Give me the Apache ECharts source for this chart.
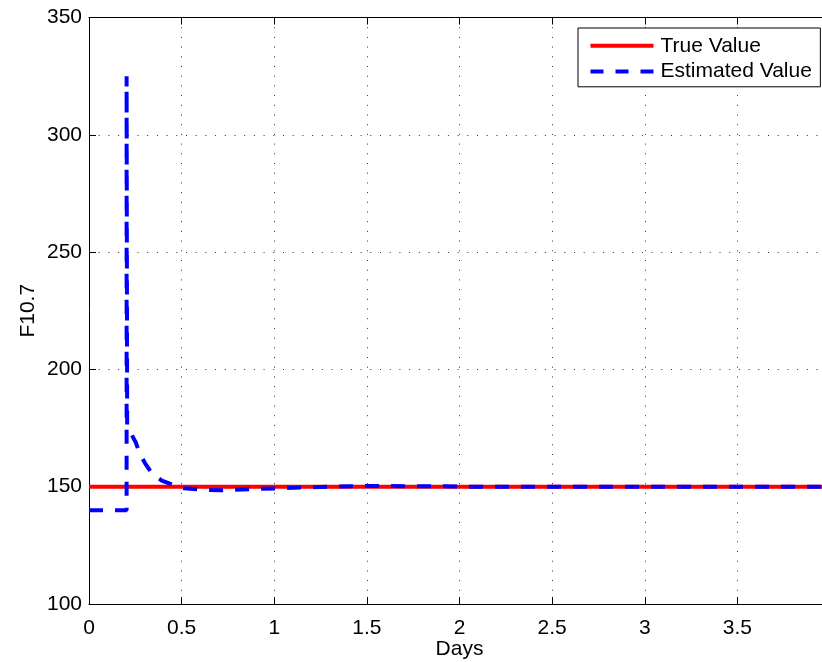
<!DOCTYPE html>
<html>
<head>
<meta charset="utf-8">
<script src="https://cdn.jsdelivr.net/npm/echarts@6/dist/echarts.min.js"></script>
<style>
  html, body { margin: 0; padding: 0; background: #fff; }
  #chart { width: 822px; height: 662px; }
</style>
</head>
<body>
<div id="chart"></div>
<script>
// F10.7 solar flux: true value versus filter estimate over time (days)
var trueDays = [0, 4];
var trueF107 = [150, 150];

var estDays = [0, 0.203, 0.203, 0.206, 0.225, 0.254, 0.272, 0.302, 0.339, 0.393,
               0.455, 0.513, 0.627, 0.72, 0.89, 1.02, 1.17, 1.41, 1.58, 1.73,
               1.88, 2.02, 2.5, 3.0, 3.5, 4.0];
var estF107 = [140, 140, 325, 176, 172.9, 168.6, 164.4, 160.1, 155.8, 152.6,
               150.7, 149.3, 148.6, 148.5, 149.0, 149.3, 149.7, 150.2, 150.3, 150.2,
               150.2, 150.0, 150.0, 150.0, 150.0, 150.0];

var xTicks = { min: 0, max: 4, step: 0.5 };
var yTicks = { min: 100, max: 350, step: 50 };

var FONT = 'Liberation Sans, Arial, Helvetica, sans-serif';

// legend swatches: a solid bar and a three-dash bar
var SOLID_ICON = 'path://M0 0H63V4H0Z';
var DASH_ICON = 'path://M0 0H13V4H0Z M25 0H38V4H25Z M50 0H63V4H50Z';

function pairs(xs, ys) {
  return xs.map(function (x, i) { return [x, ys[i]]; });
}

var dotted = { color: '#333', width: 1, type: [1, 8.7] };

var chart = echarts.init(document.getElementById('chart'), null, { renderer: 'canvas' });

chart.setOption({
  animation: false,
  backgroundColor: '#fff',
  textStyle: { fontFamily: FONT },
  grid: {
    left: 89, top: 17.5, width: 741, height: 586.5,
    containLabel: false,
    outerBoundsMode: 'none'
  },
  legend: {
    orient: 'vertical',
    left: 578,
    top: 28,
    padding: [7.3, 8.5, 4.7, 12.5],
    itemWidth: 63,
    itemHeight: 4,
    itemGap: 4.8,
    backgroundColor: '#fff',
    borderColor: '#000',
    borderWidth: 1,
    textStyle: { fontFamily: FONT, fontSize: 21, color: '#000', padding: [0, 0, 0, 2] },
    data: [
      { name: 'True Value', icon: SOLID_ICON, itemStyle: { color: '#ff0000' } },
      { name: 'Estimated Value', icon: DASH_ICON, itemStyle: { color: '#0000ff' } }
    ]
  },
  xAxis: [{
    type: 'value',
    min: xTicks.min, max: xTicks.max, interval: xTicks.step,
    name: 'Days',
    nameLocation: 'middle',
    nameGap: 35,
    nameMoveOverlap: false,
    nameTextStyle: { fontFamily: FONT, fontSize: 21, color: '#000' },
    axisLine: { show: true, onZero: false, lineStyle: { color: '#000', width: 1 } },
    axisTick: { show: true, inside: true, length: 7, lineStyle: { color: '#000' } },
    axisLabel: { fontFamily: FONT, fontSize: 21, color: '#000', margin: 14 },
    splitLine: { show: true, lineStyle: dotted }
  }, {
    type: 'value',
    position: 'top',
    min: xTicks.min, max: xTicks.max, interval: xTicks.step,
    axisLine: { show: true, onZero: false, lineStyle: { color: '#000', width: 1 } },
    axisTick: { show: true, inside: true, length: 7, lineStyle: { color: '#000' } },
    axisLabel: { show: false },
    splitLine: { show: false }
  }],
  yAxis: [{
    type: 'value',
    min: yTicks.min, max: yTicks.max, interval: yTicks.step,
    name: 'F10.7',
    nameLocation: 'middle',
    nameGap: 50,
    nameMoveOverlap: false,
    nameTextStyle: { fontFamily: FONT, fontSize: 21, color: '#000' },
    axisLine: { show: true, onZero: false, lineStyle: { color: '#000', width: 1 } },
    axisTick: { show: true, inside: true, length: 7, lineStyle: { color: '#000' } },
    axisLabel: { fontFamily: FONT, fontSize: 21, color: '#000', margin: 7 },
    splitLine: { show: true, lineStyle: dotted }
  }, {
    type: 'value',
    position: 'right',
    min: yTicks.min, max: yTicks.max, interval: yTicks.step,
    axisLine: { show: true, onZero: false, lineStyle: { color: '#000', width: 1 } },
    axisTick: { show: true, inside: true, length: 7, lineStyle: { color: '#000' } },
    axisLabel: { show: false },
    splitLine: { show: false }
  }],
  series: [{
    name: 'True Value',
    type: 'line',
    xAxisIndex: 0, yAxisIndex: 0,
    showSymbol: false,
    symbol: 'none',
    data: pairs(trueDays, trueF107),
    lineStyle: { color: '#ff0000', width: 4 },
    itemStyle: { color: '#ff0000' },
    z: 2
  }, {
    name: 'Estimated Value',
    type: 'line',
    xAxisIndex: 0, yAxisIndex: 0,
    showSymbol: false,
    symbol: 'none',
    data: pairs(estDays, estF107),
    lineStyle: { color: '#0000ff', width: 4, type: [14, 12] },
    itemStyle: { color: '#0000ff' },
    z: 3
  }]
});
</script>
</body>
</html>
